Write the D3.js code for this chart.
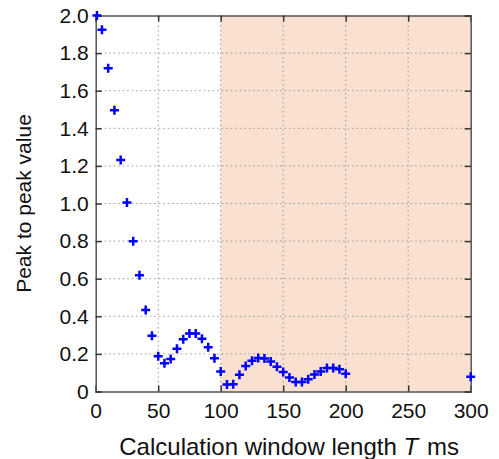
<!DOCTYPE html>
<html><head><meta charset="utf-8">
<script src="https://cdn.jsdelivr.net/npm/d3@7"></script>
<style>body{margin:0;background:#fff}svg{display:block}text{font-family:"Liberation Sans",Arial,sans-serif;fill:#111}</style>
</head><body>
<script>
const windowT = [1,5,10,15,20,25,30,35,40,45,50,55,60,65,70,75,80,85,90,95,100,105,110,115,120,125,130,135,140,145,150,155,160,165,170,175,180,185,190,195,200,300];
const peakToPeak = [2.0,1.924,1.719,1.496,1.231,1.005,0.799,0.618,0.434,0.297,0.187,0.150,0.173,0.228,0.278,0.308,0.308,0.281,0.235,0.177,0.107,0.037,0.038,0.089,0.136,0.164,0.178,0.175,0.159,0.132,0.104,0.075,0.050,0.050,0.065,0.091,0.107,0.125,0.125,0.118,0.095,0.079];
const xTicks = [0,50,100,150,200,250,300];
const yTicks = [0,0.2,0.4,0.6,0.8,1.0,1.2,1.4,1.6,1.8,2.0];
const yTickLabels = ["0","0.2","0.4","0.6","0.8","1.0","1.2","1.4","1.6","1.8","2.0"];
const shadedRange = [100,300];

const W=499,H=459;
const m={l:95.7,r:499-470.7,t:15.5,b:459-391.5};
const svg=d3.select("body").append("svg").attr("width",W).attr("height",H);
const x=d3.scaleLinear().domain([0,300]).range([m.l,W-m.r]);
const y=d3.scaleLinear().domain([0,2]).range([H-m.b,m.t]);

svg.append("rect").attr("x",x(shadedRange[0])).attr("y",y(2)).attr("width",x(shadedRange[1])-x(shadedRange[0])).attr("height",y(0)-y(2)).attr("fill","#fae0d0");

// grid
const g=svg.append("g").attr("stroke","#999").attr("stroke-width",1).attr("stroke-dasharray","1.5,3");
g.selectAll(".gx").data(xTicks.slice(1,-1)).join("line").attr("x1",d=>x(d)).attr("x2",d=>x(d)).attr("y1",y(0)).attr("y2",y(2));
g.selectAll(".gy").data(yTicks.slice(1,-1)).join("line").attr("y1",d=>y(d)).attr("y2",d=>y(d)).attr("x1",x(0)).attr("x2",x(300));

// axes
const ax=d3.axisBottom(x).tickValues(xTicks).tickSize(-6).tickPadding(12);
const axg=svg.append("g").attr("transform",`translate(0,${y(0)})`).call(ax);
const ay=d3.axisLeft(y).tickValues(yTicks).tickFormat((d,i)=>yTickLabels[i]).tickSize(-6).tickPadding(7);
const ayg=svg.append("g").attr("transform",`translate(${x(0)},0)`).call(ay);
const at=d3.axisTop(x).tickValues(xTicks).tickSize(-6).tickFormat("");
const atg=svg.append("g").attr("transform",`translate(0,${y(2)})`).call(at);
const ar=d3.axisRight(y).tickValues(yTicks).tickSize(-6).tickFormat("");
const arg=svg.append("g").attr("transform",`translate(${x(300)},0)`).call(ar);
[axg,ayg,atg,arg].forEach(s=>{s.select(".domain").attr("stroke","#555").attr("stroke-width",1.5);s.selectAll(".tick line").attr("stroke","#333").attr("stroke-width",1.5);s.selectAll("text").attr("font-size",21).attr("font-family","Liberation Sans, Arial, sans-serif").attr("fill","#111");});

// markers
const pts=svg.append("g").attr("stroke","#0000ff").attr("stroke-width",2.5);
const s=4.5;
pts.selectAll("path").data(windowT.map((t,i)=>[t,peakToPeak[i]])).join("path")
 .attr("d",d=>`M${x(d[0])-s},${y(d[1])}H${x(d[0])+s}M${x(d[0])},${y(d[1])-s}V${y(d[1])+s}`);

// titles
const xt=svg.append("text").attr("x",(x(0)+x(300))/2+6).attr("y",455).attr("text-anchor","middle").attr("font-size",24);
xt.append("tspan").text("Calculation window length ");
xt.append("tspan").attr("font-style","italic").text("T");
xt.append("tspan").attr("dx",9).text("ms");
svg.append("text").attr("transform",`translate(31,${(y(0)+y(2))/2}) rotate(-90)`).attr("text-anchor","middle").attr("font-size",21).text("Peak to peak value");
</script>
</body></html>
